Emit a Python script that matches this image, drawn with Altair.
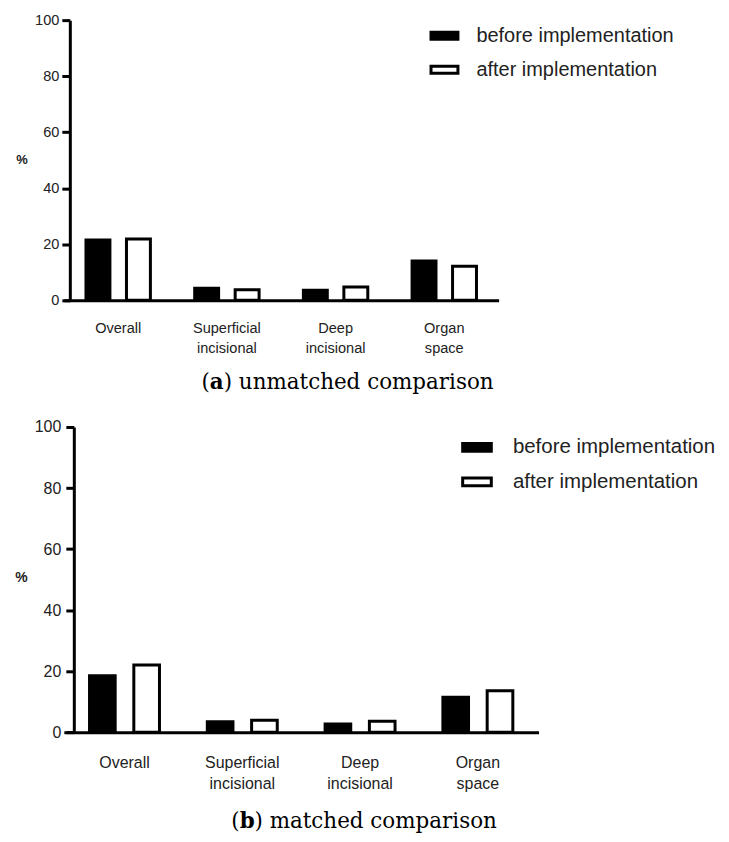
import altair as alt
import pandas as pd

categories = ["Overall", "Superficial|incisional", "Deep|incisional", "Organ|space"]
groups = ["before implementation", "after implementation"]
unmatched_before = [21.5, 4.3, 3.6, 14.0]
unmatched_after = [21.9, 3.8, 4.8, 12.2]
matched_before = [18.5, 3.4, 2.7, 11.4]
matched_after = [22.0, 3.9, 3.6, 13.6]
y_ticks = [0, 20, 40, 60, 80, 100]
caption_a = ["(", "a", ") unmatched comparison"]
caption_b = ["(", "b", ") matched comparison"]

SANS = "Liberation Sans"
SERIF = "DejaVu Serif"


def panel(before, after, caption, s):
    df = pd.DataFrame({
        "category": categories * 2,
        "group": [groups[0]] * len(categories) + [groups[1]] * len(categories),
        "value": before + after,
    })
    bars = alt.Chart(df).mark_bar(stroke="black", strokeWidth=3, strokeJoin="miter").encode(
        x=alt.X(
            "category:N", sort=categories,
            scale=alt.Scale(paddingInner=0, paddingOuter=s["po"]),
            axis=alt.Axis(
                title=None, labelAngle=0, ticks=False, tickSize=0,
                labelPadding=s["xlp"], labelFontSize=s["fs"], labelFont=SANS,
                labelColor="#222", labelBaseline="top",
                labelExpr="split(datum.label, '|')", labelLineHeight=s["lh"],
                domainWidth=3, domainColor="black",
            ),
        ),
        xOffset=alt.XOffset(
            "group:N", sort=groups,
            scale=alt.Scale(paddingInner=s["opi"], paddingOuter=s["opo"]),
        ),
        y=alt.Y(
            "value:Q",
            scale=alt.Scale(domain=[0, 100], nice=False, zero=True),
            axis=alt.Axis(
                values=y_ticks, grid=False, offset=s["yoff"],
                tickSize=8, tickWidth=3, tickColor="black",
                domainWidth=3, domainColor="black",
                labelFontSize=s["fs"], labelFont=SANS, labelColor="#222",
                labelPadding=s["ylp"],
                title="%", titleAngle=0, titleFont=SANS, titleFontWeight="bold",
                titleFontSize=s["tfs"], titleColor="#222",
                titleAlign="center", titleBaseline="middle",
                titleX=s["tx"], titleY=s["ty"],
            ),
        ),
        fill=alt.Fill(
            "group:N", sort=groups,
            scale=alt.Scale(domain=groups, range=["black", "white"]),
            legend=alt.Legend(
                title=None, orient="none", legendX=s["lx"], legendY=s["ly"],
                symbolType=s["path"], symbolSize=s["ssize"],
                symbolStrokeColor="black", symbolStrokeWidth=3,
                labelFont=SANS, labelFontSize=s["lfs"], labelColor="#222",
                labelOffset=s["loff"], rowPadding=s["rp"], padding=0,
                labelLimit=400,
            ),
        ),
    )
    texts = []
    for i, (t, xx) in enumerate(zip(caption, s["cx"])):
        texts.append(
            alt.Chart(pd.DataFrame({"t": [t]})).mark_text(
                align="left", baseline="alphabetic", font=SERIF, fontSize=21.5,
                fontWeight="bold" if i == 1 else "normal", color="black",
            ).encode(text="t:N", x=alt.value(xx), y=alt.value(s["cy"]))
        )
    return alt.layer(bars, *texts).properties(width=s["w"], height=s["h"])


top = panel(unmatched_before, unmatched_after, caption_a, dict(
    po=0, xlp=20, fs=14.6, lh=20, opi=0.409, opo=0.547, yoff=-6, ylp=3,
    tfs=13, tx=-48.5, ty=140, lx=366.7, ly=0.7,
    path="M-1,-0.26H1V0.26H-1Z", ssize=729, lfs=20, loff=17, rp=9,
    cx=[138, 146.4, 160.3], cy=369.7, w=436, h=281,
))
bottom = panel(matched_before, matched_after, caption_b, dict(
    po=0.015, xlp=22, fs=16, lh=21.7, opi=0.421, opo=0.54, yoff=-10, ylp=5,
    tfs=14, tx=-53, ty=151, lx=398.3, ly=4.5,
    path="M-1,-0.268H1V0.268H-1Z", ssize=824, lfs=20.5, loff=20, rp=7.6,
    cx=[168, 176.4, 191.2], cy=402.3, w=476, h=306,
))

chart = alt.vconcat(top, bottom, spacing=25).resolve_scale(
    fill="independent", x="independent", y="independent", xOffset="independent"
).resolve_legend(fill="independent").configure_view(stroke=None).properties(
    padding={"left": 6, "top": 3, "right": 5, "bottom": 5}
)

chart.save("out.html", embed_options={"renderer": "svg", "actions": False})
